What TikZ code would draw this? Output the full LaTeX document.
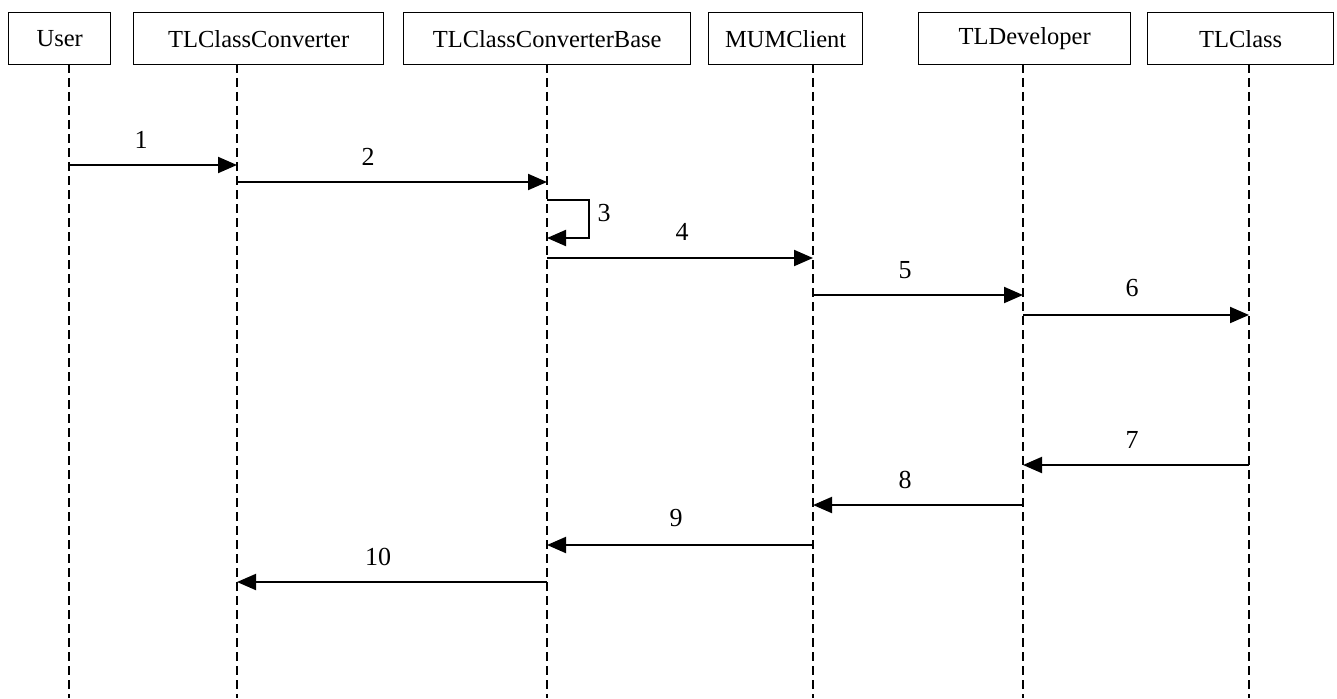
\documentclass[tikz,border=0pt]{standalone}
\usepackage{fontspec}
\setmainfont{Liberation Serif}
\usetikzlibrary{arrows.meta}
\begin{document}
\begin{tikzpicture}[x=1pt,y=-1pt,
  header/.style={draw, line width=1.4pt, minimum height=52pt, inner sep=0pt,
    font=\fontsize{24.5}{28}\selectfont, anchor=north west},
  lifeline/.style={line width=2pt, dash pattern=on 9pt off 5pt},
  msg/.style={line width=2pt, -{Triangle[length=19pt,width=16pt]}},
  num/.style={font=\fontsize{26}{28}\selectfont}]
\useasboundingbox (0,0) rectangle (1337,698);

% object boxes
\node[header, minimum width=102pt] (user) at (8,12) {User};
\node[header, minimum width=250pt] (conv) at (133,12) {TLClassConverter};
\node[header, minimum width=287pt] (base) at (403,12) {TLClassConverterBase};
\node[header, minimum width=154pt] (mum)  at (708,12) {MUMClient};
\node[header, minimum width=212pt] (dev)  at (918,12) {TLDeveloper};
\node[header, minimum width=186pt] (cls)  at (1147,12) {TLClass};

% lifelines
\foreach \n/\x in {u/69, c/237, b/547, m/813, d/1023, t/1249} {
  \coordinate (\n top) at (\x,64);
  \coordinate (\n bot) at (\x,698);
  \draw[lifeline] (\n top) -- (\n bot);
}

% message end points
\coordinate (u1) at (69,165);   \coordinate (c1) at (237,165);
\coordinate (c2) at (237,182);  \coordinate (b2) at (547,182);
\coordinate (b3a) at (547,200); \coordinate (b3b) at (547,238);
\coordinate (b4) at (547,258);  \coordinate (m4) at (813,258);
\coordinate (m5) at (813,295);  \coordinate (d5) at (1023,295);
\coordinate (d6) at (1023,315); \coordinate (t6) at (1249,315);
\coordinate (t7) at (1249,465); \coordinate (d7) at (1023,465);
\coordinate (d8) at (1023,505); \coordinate (m8) at (813,505);
\coordinate (m9) at (813,545);  \coordinate (b9) at (547,545);
\coordinate (b10) at (547,582); \coordinate (c10) at (237,582);

% messages
\draw[msg] (u1) -- (c1);
\draw[msg] (c2) -- (b2);
\draw[msg] (b3a) -- ++(42,0) |- (b3b);
\draw[msg] (b4) -- (m4);
\draw[msg] (m5) -- (d5);
\draw[msg] (d6) -- (t6);
\draw[msg] (t7) -- (d7);
\draw[msg] (d8) -- (m8);
\draw[msg] (m9) -- (b9);
\draw[msg] (b10) -- (c10);

% message numbers
\node[num] (n1) at (141,140) {1};
\node[num] (n2) at (368,157) {2};
\node[num] (n3) at (604,213) {3};
\node[num] (n4) at (682,232) {4};
\node[num] (n5) at (905,270) {5};
\node[num] (n6) at (1132,288) {6};
\node[num] (n7) at (1132,440) {7};
\node[num] (n8) at (905,480) {8};
\node[num] (n9) at (676,518) {9};
\node[num] (n10) at (378,557) {10};
\end{tikzpicture}
\end{document}
